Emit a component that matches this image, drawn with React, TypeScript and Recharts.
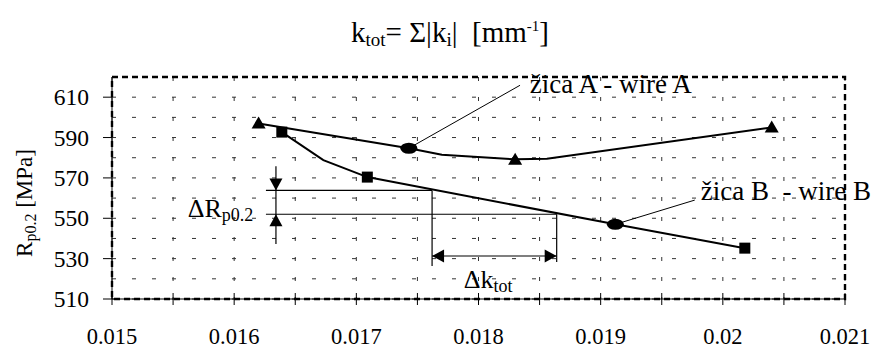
import React from 'react';
import { ComposedChart, Line, Scatter, XAxis, YAxis, CartesianGrid, ReferenceLine, ReferenceDot, ReferenceArea } from 'recharts';

// wire A curve and its measured points (triangles)
const wireALine = [
  { x: 0.0162, y: 597 },
  { x: 0.01743, y: 584.7 },
  { x: 0.0177, y: 581.5 },
  { x: 0.0183, y: 579.2 },
  { x: 0.01856, y: 579.5 },
  { x: 0.0204, y: 595 },
];
const wireAPoints = [
  { x: 0.0162, y: 597 },
  { x: 0.0183, y: 579 },
  { x: 0.0204, y: 595 },
];

// wire B curve and its measured points (squares)
const wireBLine = [
  { x: 0.01639, y: 592.7 },
  { x: 0.01673, y: 578.8 },
  { x: 0.01709, y: 570.4 },
  { x: 0.01912, y: 547 },
  { x: 0.02018, y: 535.2 },
];
const wireBPoints = [
  { x: 0.01639, y: 592.7 },
  { x: 0.01709, y: 570.4 },
  { x: 0.02018, y: 535.2 },
];

// label pointers: circle on the curve -> end of leader line
const pointerA = [{ x: 0.01743, y: 584.7 }, { x: 0.01834, y: 615.9 }];
const pointerB = [{ x: 0.01912, y: 547 }, { x: 0.01977, y: 559 }];

// delta annotation levels
const dR = { xLeft: 0.01626, xMark: 0.016342, xTop: 0.01762, xBottom: 0.01864, yTop: 563.8, yBottom: 552, yStart: 575.8, yEnd: 537.2 };
const dK = { yArrow: 531.3, yEndLeft: 526.3, yEndRight: 528.3 };

const X_TICKS = [0.015, 0.0155, 0.016, 0.0165, 0.017, 0.0175, 0.018, 0.0185, 0.019, 0.0195, 0.02, 0.0205, 0.021];
const X_MAJOR = [0.015, 0.016, 0.017, 0.018, 0.019, 0.02, 0.021];
const Y_TICKS = [510, 520, 530, 540, 550, 560, 570, 580, 590, 600, 610];
const Y_MAJOR = [510, 530, 550, 570, 590, 610];

const FONT = '"Liberation Serif", "Times New Roman", serif';

const XTick = ({ x, y, payload }: any) => {
  const major = X_MAJOR.some((v) => Math.abs(v - payload.value) < 1e-7);
  return (
    <g>
      <line x1={x} x2={x} y1={y - 6} y2={y + 6} stroke="#000" strokeWidth={1} />
      {major && (
        <text x={x} y={y + 45} textAnchor="middle" style={{ fontFamily: FONT, fontSize: 22.5 }} fill="#000">
          {String(Math.round(payload.value * 1000) / 1000)}
        </text>
      )}
    </g>
  );
};

const YTick = ({ x, y, payload }: any) => {
  if (!Y_MAJOR.includes(payload.value)) return <g />;
  return (
    <g>
      <line x1={x - 9} x2={x} y1={y} y2={y} stroke="#000" strokeWidth={1} />
      <text x={x - 23} y={y} dy="0.35em" textAnchor="end" style={{ fontFamily: FONT, fontSize: 23.5 }} fill="#000">
        {payload.value}
      </text>
    </g>
  );
};

const Triangle = ({ cx, cy }: any) => (
  <polygon points={`${cx},${cy - 7} ${cx - 7},${cy + 5} ${cx + 7},${cy + 5}`} fill="#000" />
);
const Square = ({ cx, cy }: any) => <rect x={cx - 5.5} y={cy - 5.5} width={11} height={11} fill="#000" />;
const Oval = ({ cx, cy }: any) => <ellipse cx={cx} cy={cy} rx={8.5} ry={5.5} fill="#000" />;

const arrow = (dir: 'up' | 'down' | 'left' | 'right') => ({ cx, cy }: any) => {
  const l = 12, w = 6.5;
  let pts = '';
  if (dir === 'down') pts = `${cx},${cy} ${cx - w},${cy - l} ${cx + w},${cy - l}`;
  if (dir === 'up') pts = `${cx},${cy} ${cx - w},${cy + l} ${cx + w},${cy + l}`;
  if (dir === 'left') pts = `${cx},${cy} ${cx + l},${cy - w} ${cx + l},${cy + w}`;
  if (dir === 'right') pts = `${cx},${cy} ${cx - l},${cy - w} ${cx - l},${cy + w}`;
  return <polygon points={pts} fill="#000" />;
};

const label = (content: React.ReactNode, size = 26) => ({ cx, cy }: any) => (
  <text x={cx} y={cy} style={{ fontFamily: FONT, fontSize: size }} fill="#000">
    {content}
  </text>
);

const YLabel = () => (
  <text x={0} y={0} transform="translate(32,203) rotate(-90)" textAnchor="middle" style={{ fontFamily: FONT, fontSize: 23 }} fill="#000">
    R<tspan style={{ fontSize: 16 }} dy={4}>p0.2</tspan>
    <tspan dy={-4}> [MPa]</tspan>
  </text>
);

const App: React.FC = () => {
  return (
    <div style={{ position: 'absolute', left: 0, top: 0, width: 872, height: 349, background: '#fff' }}>
      <div
        style={{
          position: 'absolute', left: 0, top: 10, width: 900, textAlign: 'center',
          fontFamily: FONT, fontSize: 29, lineHeight: '32px', color: '#000',
        }}
      >
        k<span style={{ fontSize: 19, verticalAlign: '-4px' }}>tot</span>= Σ|k
        <span style={{ fontSize: 19, verticalAlign: '-4px' }}>i</span>|&nbsp; [mm
        <span style={{ fontSize: 15, verticalAlign: '11px' }}>-1</span>]
      </div>
      <ComposedChart width={872} height={349} margin={{ top: 77, right: 27, bottom: 0, left: 0 }}>
        <CartesianGrid stroke="#333" strokeDasharray="4 16" strokeWidth={1} />
        <XAxis
          type="number" dataKey="x" domain={[0.015, 0.021]} ticks={X_TICKS} allowDataOverflow
          height={50} tickSize={0} tickMargin={0} tickLine={false} axisLine={{ stroke: '#000' }} tick={<XTick />} interval={0}
        />
        <YAxis
          type="number" dataKey="y" domain={[510, 620]} ticks={Y_TICKS} allowDataOverflow
          width={112} tickSize={0} tickMargin={0} tickLine={false} axisLine={{ stroke: '#000' }} tick={<YTick />} interval={0}
          label={{ content: () => <YLabel /> }}
        />
        <ReferenceArea x1={0.015} x2={0.021} y1={510} y2={620} fill="none" stroke="#000" strokeWidth={2.4} strokeDasharray="6 4" />

        <Line data={wireALine} dataKey="y" type="linear" stroke="#000" strokeWidth={2} dot={false} isAnimationActive={false} />
        <Line data={wireBLine} dataKey="y" type="linear" stroke="#000" strokeWidth={2} dot={false} isAnimationActive={false} />
        <Line data={pointerA} dataKey="y" type="linear" stroke="#000" strokeWidth={1} dot={false} isAnimationActive={false} />
        <Line data={pointerB} dataKey="y" type="linear" stroke="#000" strokeWidth={1} dot={false} isAnimationActive={false} />
        <Scatter data={wireAPoints} dataKey="y" shape={Triangle} isAnimationActive={false} />
        <Scatter data={wireBPoints} dataKey="y" shape={Square} isAnimationActive={false} />
        <Scatter data={[pointerA[0], pointerB[0]]} dataKey="y" shape={Oval} isAnimationActive={false} />

        {/* delta R annotation */}
        <ReferenceLine segment={[{ x: dR.xLeft, y: dR.yTop }, { x: dR.xTop, y: dR.yTop }]} stroke="#000" strokeWidth={1.2} />
        <ReferenceLine segment={[{ x: dR.xLeft, y: dR.yBottom }, { x: dR.xBottom, y: dR.yBottom }]} stroke="#000" strokeWidth={1.2} />
        <ReferenceLine segment={[{ x: dR.xMark, y: dR.yStart }, { x: dR.xMark, y: dR.yEnd }]} stroke="#000" strokeWidth={1.2} />
        <ReferenceDot x={dR.xMark} y={dR.yTop} shape={arrow('down')} />
        <ReferenceDot x={dR.xMark} y={dR.yBottom} shape={arrow('up')} />
        <ReferenceDot
          x={0.01562} y={550.6}
          shape={label(<>ΔR<tspan style={{ fontSize: 18 }} dy={4}>p0.2</tspan></>)}
        />

        {/* delta k annotation */}
        <ReferenceLine segment={[{ x: dR.xTop, y: dR.yTop }, { x: dR.xTop, y: dK.yEndLeft }]} stroke="#000" strokeWidth={1.2} />
        <ReferenceLine segment={[{ x: dR.xBottom, y: dR.yBottom }, { x: dR.xBottom, y: dK.yEndRight }]} stroke="#000" strokeWidth={1.2} />
        <ReferenceLine segment={[{ x: dR.xTop, y: dK.yArrow }, { x: dR.xBottom, y: dK.yArrow }]} stroke="#000" strokeWidth={1.2} />
        <ReferenceDot x={dR.xTop} y={dK.yArrow} shape={arrow('left')} />
        <ReferenceDot x={dR.xBottom} y={dK.yArrow} shape={arrow('right')} />
        <ReferenceDot
          x={0.01788} y={515.4}
          shape={label(<>Δk<tspan style={{ fontSize: 18 }} dy={4}>tot</tspan></>)}
        />

        {/* series labels */}
        <ReferenceDot x={0.01842} y={612} shape={label('žica A - wire A', 27)} />
        <ReferenceDot x={0.01982} y={559} shape={label('žica B\u00a0 - wire B', 27)} />
      </ComposedChart>
    </div>
  );
};

export default App;
